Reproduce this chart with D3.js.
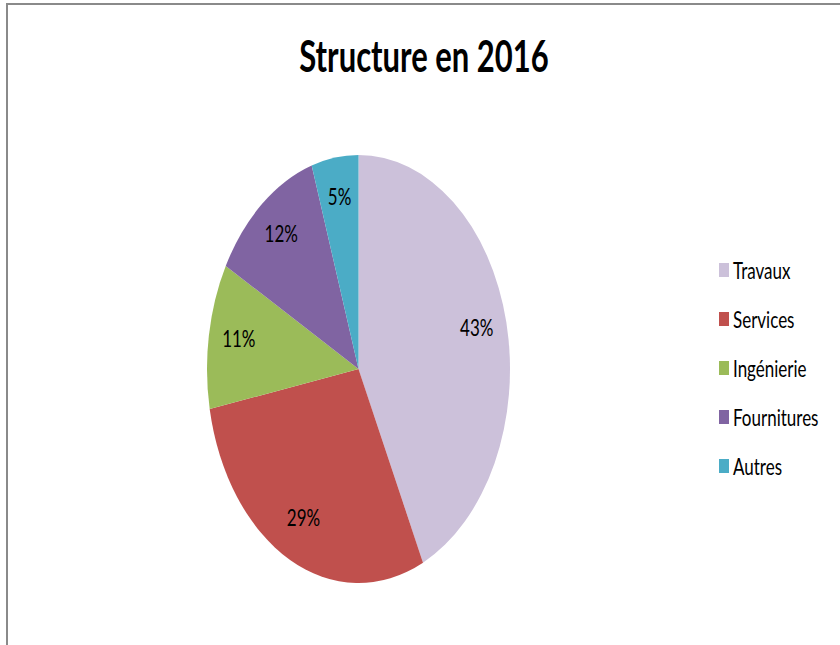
<!DOCTYPE html>
<html>
  <head>
    <meta charset="utf-8">
    <title>Structure en 2016</title>
    <style type="text/css">
        html, body{
            padding: 0px;
            margin: 0px;
            background: #fff;
        }
        svg text{
            font-family: "Lato", "Open Sans", sans-serif;
            fill: #000;
        }
    </style>
  </head>
  <body>
    <div id="vis"></div>
    <script src="https://cdnjs.cloudflare.com/ajax/libs/d3/7.8.5/d3.min.js"></script>
    <script type="text/javascript">

        // data
        var categories = ["Travaux", "Services", "Ingénierie", "Fournitures", "Autres"];
        var values = [43, 29, 11, 12, 5];
        var colors = ["#ccc1da", "#c0504d", "#9bbb59", "#8064a2", "#4bacc6"];
        var title = "Structure en 2016";

        var width = 840,
            height = 645;

        // the whole picture is stretched vertically
        var stretch = 1.41;

        var cx = 358.5,
            cy = 369,
            ry = 214,
            rx = 151.5;

        var svg = d3.select("#vis").append("svg")
            .attr("width", width)
            .attr("height", height);

        // frame
        svg.append("path")
            .attr("d", "M7," + (height + 5) + " L7,4 L" + (width + 5) + ",4")
            .attr("fill", "none")
            .attr("stroke", "#8a8a8a")
            .attr("stroke-width", 2);

        // title
        svg.append("text")
            .attr("transform", "translate(424,72) scale(1," + stretch + ")")
            .attr("text-anchor", "middle")
            .style("font-size", "31px")
            .style("font-weight", "bold")
            .text(title);

        var pie = d3.pie()
            .sort(null)
            .value(function(d) { return d.value; });

        var data = categories.map(function(c, i) {
            return {name: c, value: values[i], color: colors[i]};
        });

        var arcs = pie(data);

        var arc = d3.arc()
            .innerRadius(0)
            .outerRadius(ry);

        var labelArc = d3.arc()
            .innerRadius(ry * 0.8)
            .outerRadius(ry * 0.8);

        var g = svg.append("g")
            .attr("transform", "translate(" + cx + "," + cy + ") scale(" + (rx / ry) + ",1)");

        g.selectAll("path.slice")
            .data(arcs)
            .enter()
            .append("path")
            .attr("class", "slice")
            .attr("d", arc)
            .attr("fill", function(d) { return d.data.color; });

        // labels (not stretched with the pie)
        svg.selectAll("text.lbl")
            .data(arcs)
            .enter()
            .append("text")
            .attr("class", "lbl")
            .attr("transform", function(d) {
                var c = labelArc.centroid(d);
                return "translate(" + (cx + c[0] * rx / ry) + "," + (cy + c[1] - 4) + ") scale(1," + stretch + ")";
            })
            .attr("text-anchor", "middle")
            .attr("dy", "0.36em")
            .style("font-size", "17px")
            .text(function(d) { return d.data.value + "%"; });

        // legend
        var legend = svg.selectAll("g.legend")
            .data(data)
            .enter()
            .append("g")
            .attr("class", "legend")
            .attr("transform", function(d, i) { return "translate(719," + (270 + i * 49) + ")"; });

        legend.append("rect")
            .attr("x", 0)
            .attr("y", -7)
            .attr("width", 10)
            .attr("height", 14)
            .attr("fill", function(d) { return d.color; });

        legend.append("text")
            .attr("transform", "translate(14,1) scale(1,1.35)")
            .attr("dy", "0.36em")
            .style("font-size", "17px")
            .text(function(d) { return d.name; });

    </script>
  </body>
</html>
